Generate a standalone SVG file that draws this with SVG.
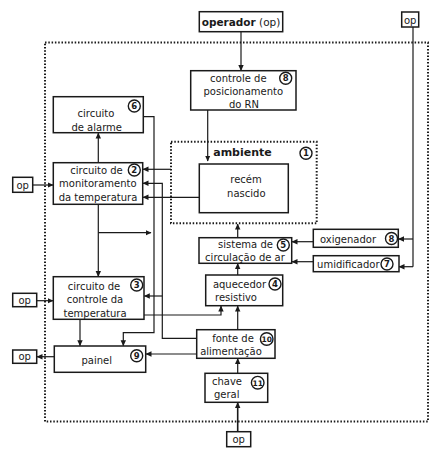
<svg xmlns="http://www.w3.org/2000/svg" width="441" height="454" viewBox="0 0 441 454">
<defs>
<marker id="ah" markerWidth="6" markerHeight="6" refX="5.5" refY="3" orient="auto" markerUnits="userSpaceOnUse">
<path d="M0,0.3 L6,3 L0,5.7 Z" fill="#1a1a1a"/>
</marker>
</defs>
<style>
.box{fill:#fff;stroke:#1a1a1a;stroke-width:1.5}
.dot{fill:none;stroke:#1a1a1a;stroke-width:2;stroke-dasharray:1.5 1.8}
.ln{fill:none;stroke:#1a1a1a;stroke-width:1.2}
.ar{fill:none;stroke:#1a1a1a;stroke-width:1.2;marker-end:url(#ah)}
text{font-family:"DejaVu Sans","Liberation Sans",sans-serif;font-size:10px;fill:#1a1a1a;text-anchor:middle}
.b{font-weight:bold}
.num circle{fill:#fff;stroke:#1a1a1a;stroke-width:1.4}
.num text{font-weight:bold;font-size:8.5px}
</style>
<rect width="441" height="454" fill="#fff"/>
<rect class="dot" x="45" y="42.5" width="383" height="379"/>
<g id="connectors">
<path class="ar" d="M241,32 V70.5"/>
<path class="ar" d="M207.7,110 V161"/>
<path class="ln" d="M413,27 V266.7"/>
<path class="ar" d="M413,239 H398.5"/>
<path class="ar" d="M413,266.7 H399"/>
<path class="ar" d="M313.3,241.7 H292"/>
<path class="ar" d="M313.3,261.7 H292"/>
<path class="ar" d="M237.7,237.7 V224"/>
<path class="ar" d="M237.7,275 V263.5"/>
<path class="ar" d="M237.7,329.3 V306"/>
<path class="ar" d="M237.7,373.3 V358.5"/>
<path class="ar" d="M237.7,431.7 V402.5" style="stroke-width:1.6"/>
<path class="ar" d="M196.7,354 H146"/>
<path class="ar" d="M54.3,356.7 H37"/>
<path class="ar" d="M36.7,300.7 H53"/>
<path class="ar" d="M32.7,185 H53"/>
<path class="ar" d="M171,169.3 H143"/>
<path class="ar" d="M199.3,197.3 H143"/>
<path class="ar" d="M196.7,338.3 H162.3 V183.3 H143"/>
<path class="ar" d="M162.3,296 H144.3"/>
<path class="ar" d="M143.3,116.7 H154 V332.7 H123.3 V345.7"/>
<path class="ar" d="M98.3,162.7 V133"/>
<path class="ar" d="M98.3,204.3 V276.5"/>
<path class="ar" d="M98.3,232.7 H151"/>
<path class="ar" d="M144,315 H221 V306"/>
<path class="ar" d="M80,319.3 V345.7"/>
</g>
<g id="operador">
<rect class="box" x="199.3" y="11.7" width="83.4" height="20"/>
<text x="241" y="25.5" style="font-size:10.5px"><tspan class="b">operador</tspan> (op)</text>
</g>
<g id="op-top">
<rect class="box" x="401.7" y="12" width="17" height="15"/>
<text x="410.2" y="23.5">op</text>
</g>
<g id="op-left1">
<rect class="box" x="12.7" y="177.3" width="20" height="15"/>
<text x="22.7" y="188.5">op</text>
</g>
<g id="op-left2">
<rect class="box" x="12.7" y="293.3" width="24" height="13.4"/>
<text x="24.7" y="303.5">op</text>
</g>
<g id="op-left3">
<rect class="box" x="12.7" y="350" width="24" height="13.3"/>
<text x="24.7" y="360">op</text>
</g>
<g id="op-bottom">
<rect class="box" x="226.7" y="431.7" width="24" height="15"/>
<text x="238.7" y="442.5">op</text>
</g>
<g id="controle-posicionamento">
<rect class="box" x="190.7" y="70.7" width="105.3" height="39.3"/>
<text x="238.3" y="82">controle de</text>
<text x="243.3" y="95">posicionamento</text>
<text x="244" y="107.5">do RN</text>
<g class="num"><circle cx="285.7" cy="78.3" r="6"/><text x="285.7" y="81.3">8</text></g>
</g>
<g id="circuito-alarme">
<rect class="box" x="53.3" y="96.7" width="90" height="36"/>
<text x="96" y="117">circuito</text>
<text x="96.7" y="130.5">de alarme</text>
<g class="num"><circle cx="134.3" cy="106" r="6"/><text x="134.3" y="109">6</text></g>
</g>
<g id="ambiente">
<rect class="dot" x="171" y="141.7" width="145.7" height="81.6"/>
<text class="b" x="242.5" y="156" style="font-size:11px">ambiente</text>
<g class="num"><circle cx="306" cy="153.3" r="6"/><text x="306" y="156.3">1</text></g>
</g>
<g id="recem-nascido">
<rect class="box" x="199.3" y="164" width="89" height="48.7"/>
<text x="246" y="183">recém</text>
<text x="246.3" y="196.5">nascido</text>
</g>
<g id="circuito-monitoramento">
<rect class="box" x="53.3" y="162.7" width="89.4" height="41.6"/>
<text x="96.5" y="174">circuito de</text>
<text x="97.8" y="187">monitoramento</text>
<text x="98" y="200.5">da temperatura</text>
<g class="num"><circle cx="134.3" cy="170" r="6"/><text x="134.3" y="173">2</text></g>
</g>
<g id="sistema-circulacao">
<rect class="box" x="199" y="237.7" width="92.7" height="25.6"/>
<text x="245.5" y="248">sistema de</text>
<text x="245" y="261">circulação de ar</text>
<g class="num"><circle cx="283.3" cy="245" r="6"/><text x="283.3" y="248">5</text></g>
</g>
<g id="oxigenador">
<rect class="box" x="313.3" y="229.3" width="85" height="18"/>
<text x="348" y="242.5">oxigenador</text>
<g class="num"><circle cx="391.5" cy="238.5" r="6"/><text x="391.5" y="241.5">8</text></g>
</g>
<g id="umidificador">
<rect class="box" x="313.3" y="255.7" width="85.7" height="16"/>
<text x="348.3" y="267.5">umidificador</text>
<g class="num"><circle cx="387" cy="264" r="6"/><text x="387" y="267">7</text></g>
</g>
<g id="aquecedor">
<rect class="box" x="205.7" y="275" width="77" height="30.7"/>
<text x="239.5" y="288">aquecedor</text>
<text x="236" y="300.5">resistivo</text>
<g class="num"><circle cx="275" cy="284" r="6"/><text x="275" y="287">4</text></g>
</g>
<g id="circuito-controle">
<rect class="box" x="53.3" y="276.7" width="90.7" height="42.6"/>
<text x="94" y="289.5">circuito de</text>
<text x="95" y="303">controle da</text>
<text x="95" y="316.5">temperatura</text>
<g class="num"><circle cx="136.7" cy="285" r="6"/><text x="136.7" y="288">3</text></g>
</g>
<g id="painel">
<rect class="box" x="54.3" y="346" width="91.4" height="26.3"/>
<text x="96.7" y="364">painel</text>
<g class="num"><circle cx="136.7" cy="355.7" r="6"/><text x="136.7" y="358.7">9</text></g>
</g>
<g id="fonte-alimentacao">
<rect class="box" x="196.7" y="329.7" width="78.3" height="28.6"/>
<text x="233" y="341.5">fonte de</text>
<text x="231" y="355">alimentação</text>
<g class="num"><circle cx="266.7" cy="339" r="6.3"/><text x="266.7" y="342" style="font-size:7.5px">10</text></g>
</g>
<g id="chave-geral">
<rect class="box" x="205" y="373.3" width="62.7" height="29"/>
<text x="227" y="384.5">chave</text>
<text x="226.7" y="398">geral</text>
<g class="num"><circle cx="257.7" cy="382.7" r="6.3"/><text x="257.7" y="385.7" style="font-size:7.5px">11</text></g>
</g>
</svg>
